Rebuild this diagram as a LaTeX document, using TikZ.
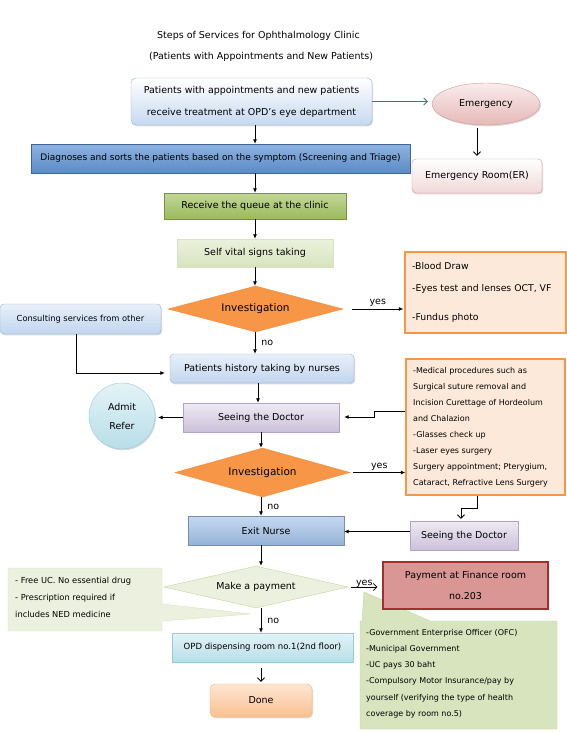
\documentclass[tikz,border=0pt]{standalone}
\usepackage{fontspec}
\setmainfont{DejaVu Sans}
\usetikzlibrary{arrows.meta,shapes.geometric,shadows}
\definecolor{bluelt}{HTML}{C6D9F1}
\definecolor{bluebd}{HTML}{95B3D7}
\definecolor{bluemd}{HTML}{5B8BC6}
\definecolor{bluemdt}{HTML}{8FB2E0}
\definecolor{bluedk}{HTML}{3D669A}
\definecolor{grn}{HTML}{9BBB59}
\definecolor{grnt}{HTML}{C3D69B}
\definecolor{grnd}{HTML}{77933C}
\definecolor{grnl}{HTML}{D7E4BD}
\definecolor{grnll}{HTML}{EBF1DE}
\definecolor{org}{HTML}{F79646}
\definecolor{orgd}{HTML}{F08A3A}
\definecolor{peach}{HTML}{FDE9D9}
\definecolor{pur}{HTML}{CCC1DA}
\definecolor{purl}{HTML}{EEEAF3}
\definecolor{purd}{HTML}{B3A2C7}
\definecolor{cyn}{HTML}{B7DEE8}
\definecolor{cynl}{HTML}{E4F3F7}
\definecolor{cynd}{HTML}{93CDDD}
\definecolor{pnk}{HTML}{E6B9B8}
\definecolor{pnkl}{HTML}{F9ECEC}
\definecolor{pnkd}{HTML}{D99694}
\definecolor{redd}{HTML}{A0302E}
\definecolor{emarr}{HTML}{4A6A96}
\definecolor{dn}{HTML}{FAC090}
\definecolor{dnl}{HTML}{FDE6D2}
\definecolor{dnd}{HTML}{F9B074}
\newcommand\fa{\fontsize{9.5pt}{11pt}\selectfont}
\newcommand\fb{\fontsize{8pt}{16pt}\selectfont}
\newcommand\fc{\fontsize{10.5pt}{12pt}\selectfont}
\begin{document}
\begin{tikzpicture}[x=1pt,y=-1pt,
  every node/.style={inner sep=0pt, align=center, font=\fa, text=black},
  shad/.style={drop shadow={shadow xshift=1pt,shadow yshift=-1.3pt,opacity=.3}},
  arr/.style={-{Latex[length=4.5pt,width=4pt]}, line width=0.8pt},
  oarr/.style={-{Straight Barb[length=3.5pt,width=7pt]}, line width=0.8pt},
  dia/.style={shape=diamond, shape aspect=3.5}
]
\useasboundingbox (0,0) rectangle (567,733);

% title
\node (t1) at (258.5,36) {Steps of Services for Ophthalmology Clinic};
\node (t2) at (261,57) {(Patients with Appointments and New Patients)};

% top
\node[draw=bluebd, top color=white, bottom color=bluelt, rounded corners=5pt, shad,
  minimum width=241pt, minimum height=47pt, font=\fontsize{9.5pt}{22pt}\selectfont]
  (start) at (251.5,101.5) {Patients with appointments and new patients\\receive treatment at OPD's eye department};
\node[shape=ellipse, draw=pnkd, top color=pnkl, bottom color=pnk, shad,
  minimum width=108pt, minimum height=42pt] (em) at (486,104) {Emergency};
\node[draw=pnkd, top color=white, bottom color=pnkl!60!pnk, rounded corners=4pt, shad,
  minimum width=130pt, minimum height=34pt] (er) at (477,176) {Emergency Room(ER)};
\node[draw=bluedk, top color=bluemdt, bottom color=bluemd, shad,
  minimum width=379pt, minimum height=29pt, font=\fontsize{9pt}{11pt}\selectfont] (diag) at (220.5,158.5)
  {Diagnoses and sorts the patients based on the symptom (Screening and Triage)};
\node[draw=grnd, top color=grnt, bottom color=grn, shad,
  minimum width=182pt, minimum height=26pt] (queue) at (255,206) {Receive the queue at the clinic};
\node[draw=grnl, top color=grnll, bottom color=grnl, shad,
  minimum width=156pt, minimum height=28pt] (vital) at (255,253) {Self vital signs taking};
\node[dia, draw=orgd, fill=org, minimum width=175pt, minimum height=46pt, font=\fc]
  (inv1) at (255.5,309) {Investigation};
\node[draw=org, line width=1.3pt, fill=peach, minimum width=161pt, minimum height=81pt] (blood) at (485.5,292.5) {};
\node[anchor=west, align=left, font=\fontsize{9.3pt}{22pt}\selectfont] (bloodt) at (412,292.5)
  {-Blood Draw\\-Eyes test and lenses OCT, VF\\[7pt]-Fundus photo};
\node[draw=bluebd, top color=bluelt!40, bottom color=bluelt!90!bluebd, rounded corners=4pt, shad,
  minimum width=161pt, minimum height=30pt, font=\fontsize{8.3pt}{10pt}\selectfont]
  (consult) at (80.5,319) {Consulting services from other};
\node[draw=bluebd, top color=bluelt!40, bottom color=bluelt!90!bluebd, rounded corners=4pt, shad,
  minimum width=184pt, minimum height=29pt] (hist) at (262,368.5) {Patients history taking by nurses};
\node[draw=purd, top color=purl, bottom color=pur, shad,
  minimum width=156pt, minimum height=29pt] (doc) at (261,417.5) {Seeing the Doctor};
\node[shape=circle, draw=cynd, top color=cynl, bottom color=cyn, shad,
  minimum size=66pt, font=\fontsize{9.5pt}{19pt}\selectfont] (adm) at (122,416) {Admit\\Refer};
\node[dia, draw=orgd, fill=org, minimum width=175pt, minimum height=49pt, font=\fc]
  (inv2) at (262.5,472.5) {Investigation};
\node[draw=org, line width=1.3pt, fill=peach, minimum width=159pt, minimum height=136pt] (med) at (485.5,427) {};
\node[anchor=west, align=left, font=\fb] (medt) at (413,427.5)
  {-Medical procedures such as\\Surgical suture removal and\\Incision Curettage of Hordeolum\\and Chalazion\\-Glasses check up\\-Laser eyes surgery\\Surgery appointment; Pterygium,\\Cataract, Refractive Lens Surgery};
\node[draw=bluebd!80!black, top color=bluelt, bottom color=bluebd, shad,
  minimum width=156pt, minimum height=29pt] (exit) at (266,530.5) {Exit Nurse};
\node[draw=purd, top color=purl, bottom color=pur, shad,
  minimum width=108pt, minimum height=29pt] (doc2) at (464,535.5) {Seeing the Doctor};

% callouts
\path[draw=grnl, fill=grnll] (8,568) -- (162,568) -- (162,604) -- (251,614) -- (162,621) -- (162,631) -- (8,631) -- cycle;
\node[anchor=west, align=left, font=\fontsize{8.3pt}{17pt}\selectfont] (lct) at (15,597)
  {- Free UC. No essential drug\\- Prescription required if\\includes NED medicine};
\path[draw=grnt, fill=grnl] (360,621) -- (362,621) -- (364,592) -- (430,621) -- (557,621) -- (557,729) -- (360,729) -- cycle;
\node[anchor=west, align=left, font=\fontsize{8pt}{16.2pt}\selectfont] (rct) at (366,673.5)
  {-Government Enterprise Officer (OFC)\\-Municipal Government\\-UC pays 30 baht\\-Compulsory Motor Insurance/pay by\\yourself (verifying the type of health\\coverage by room no.5)};

\node[dia, draw=grnt, fill=grnll, minimum width=184pt, minimum height=42pt]
  (pay) at (256,587) {Make a payment};
\node[draw=redd, line width=1.2pt, fill=pnkd, shad, minimum width=165pt, minimum height=47pt,
  font=\fontsize{9.5pt}{21pt}\selectfont] (fin) at (465.5,585.5) {Payment at Finance room\\no.203};
\node[draw=cynd, top color=cynl, bottom color=cyn, shad,
  minimum width=181pt, minimum height=29pt, font=\fontsize{8.5pt}{10pt}\selectfont]
  (opd) at (262.5,647.5) {OPD dispensing room no.1(2nd floor)};
\node[draw=dnd, top color=dnl, bottom color=dn, rounded corners=5pt, shad,
  minimum width=102pt, minimum height=33pt] (done) at (261,700.5) {Done};

% connectors
\draw[oarr, emarr] (start.east) -- ([xshift=-4pt]start.east -| em.west);
\draw[oarr] ([yshift=-3pt]er.north |- em.south) -- ([yshift=3pt]er.north);
\draw[arr] (start.south -| vital.north) -- (diag.north -| vital.north);
\draw[arr] (diag.south -| vital.north) -- (queue.north -| vital.north);
\draw[arr] (queue.south -| vital.north) -- (vital.north);
\draw[arr] (vital.south) -- (inv1.north -| vital.north);
\draw[arr] ([xshift=9pt]inv1.east) -- node[above=2pt]{yes} ([xshift=-1pt]blood.west |- inv1.east);
\draw[arr] (inv1.south -| vital.south) -- node[right=6pt]{no} (hist.north -| vital.south);
\draw[arr] ([xshift=-4pt]consult.south) |- ([xshift=-5pt,yshift=-4.5pt]hist.west);
\draw[arr] ([xshift=-4pt]hist.south) -- ([xshift=-3pt]doc.north);
\draw[arr] (doc.west) -- ([xshift=3pt]doc.west -| adm.east);
\draw[arr] ([yshift=16pt]med.west) -- ++(-31,0) |- ([xshift=5pt,yshift=0.5pt]doc.east);
\draw[arr] (doc.south) -- (inv2.north -| doc.south);
\draw[arr] ([xshift=3pt]inv2.east) -- node[above=2pt]{yes} (med.west |- inv2.east);
\draw[arr] (inv2.south -| doc.south) -- node[right=6pt]{no} (exit.north -| doc.south);
\draw[oarr] ([xshift=-8.5pt]med.south) -- ++(0,13) -| ([xshift=-3pt,yshift=2pt]doc2.north);
\draw[arr] ([yshift=4pt]doc2.west) -- ([yshift=4pt]doc2.west -| exit.east);
\draw[arr] (exit.south -| done.north) -- (pay.north -| done.north);
\draw[oarr] ([xshift=3pt]pay.east) -- node[above=-1pt]{yes} ([xshift=-5pt]fin.west |- pay.east);
\draw[arr] (pay.south -| done.north) -- node[right=6pt]{no} (opd.north -| done.north);
\draw[oarr] ([yshift=-6pt]opd.south -| done.north) -- ([yshift=2pt]done.north);
\end{tikzpicture}
\end{document}
